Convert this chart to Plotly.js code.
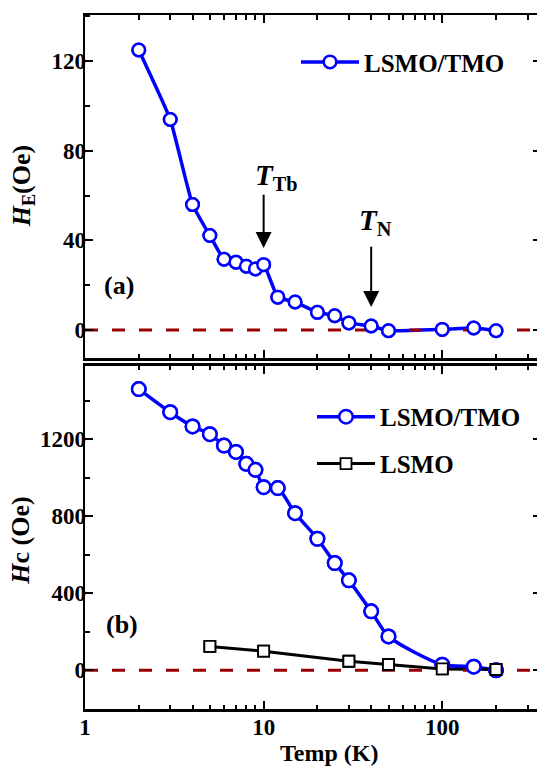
<!DOCTYPE html>
<html>
<head>
<meta charset="utf-8">
<script src="https://cdn.plot.ly/plotly-3.0.1.min.js"></script>
<style>html,body{margin:0;padding:0;overflow:hidden;background:#fff}</style>
</head>
<body>
<div id="chart"></div>
<script>
// ---------- data ----------
const tempA = [2, 3, 4, 5, 6, 7, 8, 9, 10, 12, 15, 20, 25, 30, 40, 50, 100, 150, 200];
const hE_LSMO_TMO = [125, 94, 56, 42.2, 31.6, 30.3, 28.5, 27.3, 29.2, 14.7, 12.5, 7.9, 6.4, 3.2, 1.8, -0.3, 0.3, 0.9, -0.3];

const tempB = [2, 3, 4, 5, 6, 7, 8, 9, 10, 12, 15, 20, 25, 30, 40, 50, 100, 150, 200];
const hc_LSMO_TMO = [1460, 1340, 1266, 1226, 1167, 1134, 1072, 1041, 951, 946, 816, 683, 557, 467, 306, 176, 29, 19, 0];

const tempLSMO = [5, 10, 30, 50, 100, 200];
const hc_LSMO = [124, 99, 47, 30, 7, 4];

const xRangeK = [1, 357];
const zeroY = [0, 0];
const xTicks = [1, 10, 100];
const T_Tb = 10, T_N = 40;
const arrowTb = [61.1, 36.6];   // H_E tail/tip values
const arrowN = [37.9, 10.3];

// ---------- geometry helpers ----------
const W = 541, H = 766;
const M = {l: 85, r: 0, t: 14.5, b: 56.5};
const PW = W - M.l - M.r, PH = H - M.t - M.b;
const px2x = p => (p - M.l) / PW;
const px2y = p => (H - M.b - p) / PH;

const SERIF = 'Liberation Serif';
const BLUE = '#0000ff';
const DRED = '#990000';

function circleTrace(x, y, xa, ya, name, leg, show, mode, shape, smooth) {
  return {
    x: x, y: y, xaxis: xa, yaxis: ya, name: name, legend: leg, showlegend: show,
    mode: mode, type: 'scatter',
    line: {color: BLUE, width: 3.5, shape: shape, smoothing: smooth},
    marker: {symbol: 'circle', size: 12.5, color: '#fff', line: {color: BLUE, width: 2.5}},
    hoverinfo: 'skip'
  };
}
function zeroTrace(xa, ya) {
  return {x: xRangeK, y: zeroY, xaxis: xa, yaxis: ya, mode: 'lines', showlegend: false,
    line: {color: DRED, width: 3, dash: '13px,14px'}, hoverinfo: 'skip'};
}
function sqTrace(mode, show) {
  return {x: tempLSMO, y: hc_LSMO, xaxis: 'x2', yaxis: 'y2', name: 'LSMO', legend: 'legend3',
    showlegend: show, mode: mode,
    line: {color: '#000', width: 3},
    marker: {symbol: 'square', size: 11, color: '#fff', line: {color: '#000', width: 1.8}},
    hoverinfo: 'skip'};
}

const data = [
  circleTrace(tempA, hE_LSMO_TMO, 'x', 'y', 'LSMO/TMO', 'legend', true, 'lines+markers', 'spline', 0.4),
  zeroTrace('x', 'y'),
  circleTrace(tempA, hE_LSMO_TMO, 'x', 'y', 'LSMO/TMO', 'legend', false, 'markers', 'linear', 0),
  circleTrace(tempB, hc_LSMO_TMO, 'x2', 'y2', 'LSMO/TMO', 'legend2', true, 'lines+markers', 'spline', 0.7),
  sqTrace('lines+markers', true),
  zeroTrace('x2', 'y2'),
  circleTrace(tempB, hc_LSMO_TMO, 'x2', 'y2', 'LSMO/TMO', 'legend2', false, 'markers', 'linear', 0),
  sqTrace('markers', false)
];
data[3].marker.size = 13.5;
data[6].marker.size = 13.5;

const tickFont = {family: SERIF, size: 23, color: '#000', weight: 'bold'};
function xAxis(anchor, labels) {
  return {
    type: 'log', range: [Math.log10(xRangeK[0]), Math.log10(xRangeK[1])], anchor: anchor,
    tickvals: xTicks, ticktext: xTicks.map(String), showticklabels: labels,
    ticks: 'inside', ticklen: 8, tickwidth: 2, tickcolor: '#000',
    minor: {ticks: 'inside', ticklen: 4.5, tickwidth: 2, tickcolor: '#000', dtick: 'D1', showgrid: false},
    showline: true, linewidth: 2.5, linecolor: '#000', mirror: 'allticks',
    showgrid: false, zeroline: false, tickfont: tickFont, fixedrange: true,
    ticklabelstandoff: -4
  };
}
function yAxis(domain, range, dtick, anchor) {
  return {
    domain: domain, range: range, dtick: dtick, tick0: 0, anchor: anchor,
    ticks: 'inside', ticklen: 8, tickwidth: 2, tickcolor: '#000',
    minor: {ticks: 'inside', ticklen: 4.5, tickwidth: 2, tickcolor: '#000', dtick: dtick / 2, showgrid: false},
    showline: true, linewidth: 2.5, linecolor: '#000', mirror: 'allticks',
    showgrid: false, zeroline: false, tickfont: tickFont, fixedrange: true,
    ticklabelstandoff: -8
  };
}

const legFont = {family: SERIF, size: 25, color: '#000', weight: 'bold'};
function legend(xpx, ypx) {
  return {x: px2x(xpx), y: px2y(ypx), xanchor: 'left', yanchor: 'middle', xref: 'paper', yref: 'paper',
    bgcolor: 'rgba(0,0,0,0)', borderwidth: 0, font: legFont, itemwidth: 58, itemclick: false};
}

const annFont = (s) => ({family: SERIF, size: s, color: '#000', weight: 'bold'});
function txt(text, xpx, ypx, size, angle) {
  return {text: text, x: px2x(xpx), y: px2y(ypx), xref: 'paper', yref: 'paper',
    xanchor: 'center', yanchor: 'middle', showarrow: false, font: annFont(size), textangle: angle || 0};
}
function arrow(T, vals) {
  return {text: '', x: Math.log10(T), y: vals[1], ax: Math.log10(T), ay: vals[0],
    xref: 'x', yref: 'y', axref: 'x', ayref: 'y', showarrow: true,
    arrowhead: 2, arrowsize: 1.6, arrowwidth: 2, arrowcolor: '#000'};
}

const layout = {
  width: W, height: H, margin: M,
  paper_bgcolor: '#fff', plot_bgcolor: '#fff',
  font: {family: SERIF},
  xaxis: xAxis('y', false),
  yaxis: yAxis([px2y(358.3), 1], [-12.6, 140.6], 40, 'x'),
  xaxis2: xAxis('y2', true),
  yaxis2: yAxis([0, px2y(366)], [-201, 1580], 400, 'x2'),
  legend: legend(296, 61.7),
  legend2: legend(312, 417),
  legend3: legend(312, 464),
  annotations: [
    txt('<i>H</i><sub>E</sub>(Oe)', 23, 186, 26, -90),
    txt('<i>H</i>c (Oe)', 21, 541, 26, -90),
    txt('Temp (K)', 329, 754, 24),
    txt('(a)', 119, 285, 26),
    txt('(b)', 122, 625, 26),
    txt('<i>T</i><sub>Tb</sub>', 276, 177, 29),
    txt('<i>T</i><sub>N</sub>', 375, 222, 29),
    arrow(T_Tb, arrowTb),
    arrow(T_N, arrowN)
  ]
};

Plotly.newPlot('chart', data, layout, {displayModeBar: false, staticPlot: true});
</script>
</body>
</html>
